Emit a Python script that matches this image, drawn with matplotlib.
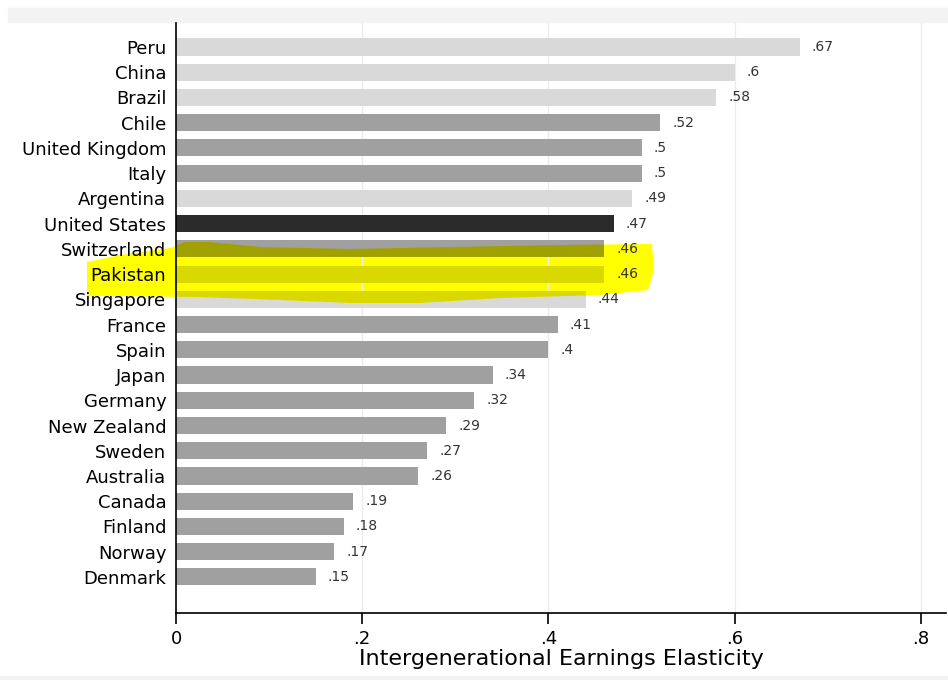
import numpy as np
import matplotlib.pyplot as plt
import matplotlib.patches as mpatches

countries = ['Peru', 'China', 'Brazil', 'Chile', 'United Kingdom', 'Italy',
             'Argentina', 'United States', 'Switzerland', 'Pakistan',
             'Singapore', 'France', 'Spain', 'Japan', 'Germany', 'New Zealand',
             'Sweden', 'Australia', 'Canada', 'Finland', 'Norway', 'Denmark']
elasticity = [0.67, 0.6, 0.58, 0.52, 0.5, 0.5, 0.49, 0.47, 0.46, 0.46, 0.44,
              0.41, 0.4, 0.34, 0.32, 0.29, 0.27, 0.26, 0.19, 0.18, 0.17, 0.15]
group = ['dev', 'dev', 'dev', 'oecd', 'oecd', 'oecd', 'dev', 'us', 'oecd',
         'dev', 'dev', 'oecd', 'oecd', 'oecd', 'oecd', 'oecd', 'oecd', 'oecd',
         'oecd', 'oecd', 'oecd', 'oecd']
x_ticks = [0, 0.2, 0.4, 0.6, 0.8]
x_tick_labels = ['0', '.2', '.4', '.6', '.8']

colors = {'dev': '#d9d9d9', 'oecd': '#a0a0a0', 'us': '#2b2b2b'}
# same bars seen through yellow highlighter (multiply)
olive = {'dev': '#d9d900', 'oecd': '#a0a000', 'us': '#2b2b00'}

W, H = 948, 680
fig = plt.figure(figsize=(W / 100, H / 100), dpi=100)
fig.patch.set_facecolor('white')


def px(x, y):
    return (x / W, 1 - y / H)


# light grey strips at top / bottom of the screenshot
fig.patches.append(mpatches.Rectangle(px(8, 22), 1, 14 / H, transform=fig.transFigure,
                                      color='#f3f3f3', zorder=-3))
fig.patches.append(mpatches.Rectangle((0, 0), 1, 4 / H, transform=fig.transFigure,
                                      color='#f3f3f3', zorder=-3))

# yellow highlighter stroke
hl_pts = [(87, 262), (120, 255), (170, 248), (185, 242), (210, 242), (260, 247),
          (350, 249), (450, 247), (560, 245), (652, 244), (654, 270), (648, 290),
          (600, 295), (500, 298), (420, 303), (350, 303), (280, 300), (200, 297),
          (87, 296)]
hl = mpatches.Polygon([px(a, b) for a, b in hl_pts], closed=True,
                      transform=fig.transFigure, facecolor='#ffff00',
                      edgecolor='none', zorder=-2)
fig.patches.append(hl)

ax = fig.add_axes([176 / W, 1 - 613 / H, 770 / W, 590 / H])
ax.patch.set_visible(False)

y = np.arange(len(countries))
ax.barh(y, elasticity, height=0.68, color=[colors[g] for g in group], zorder=2)
bars2 = ax.barh(y, elasticity, height=0.68, color=[olive[g] for g in group], zorder=2.2)
for b in bars2:
    b.set_clip_path(hl)

for yi, v in zip(y, elasticity):
    ax.text(v + 0.013, yi, ('%g' % v).lstrip('0'), va='center', ha='left',
            fontsize=10, color='#333333', zorder=4)

ax.set_yticks(y)
ax.set_yticklabels(countries, fontsize=13)
ax.tick_params(axis='y', length=0, pad=7)
ax.set_xticks(x_ticks)
ax.set_xticklabels(x_tick_labels, fontsize=13)
ax.tick_params(axis='x', length=8, width=1.2, direction='out', pad=4)
ax.set_xlim(0, 0.827)
ax.set_ylim(len(countries) - 1 + 1.43, -0.95)

for xv in x_ticks[1:]:
    ax.axvline(xv, color='#ececec', linewidth=1, zorder=1)

ax.spines['top'].set_visible(False)
ax.spines['right'].set_visible(False)
for s in ('left', 'bottom'):
    ax.spines[s].set_linewidth(1.2)
    ax.spines[s].set_zorder(5)

ax.set_xlabel('Intergenerational Earnings Elasticity', fontsize=16, labelpad=1)

fig.savefig('out.png', dpi=100)
